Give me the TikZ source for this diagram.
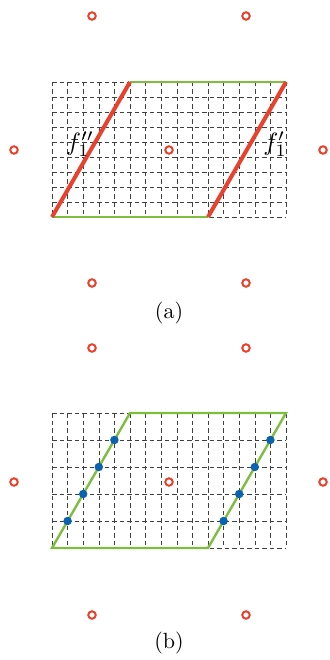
\documentclass[tikz,border=0pt]{standalone}
\usepackage{amsmath}
\usepackage{xcolor}
\usetikzlibrary{calc}
\definecolor{ringred}{HTML}{E8412C}
\definecolor{edgegreen}{HTML}{7DBE3F}
\definecolor{dotblue}{HTML}{0B62B0}
\definecolor{gridgrey}{HTML}{404040}

\begin{document}
\begin{tikzpicture}[
    x=1pt, y=-1pt,
    ring/.style={circle, draw=ringred, line width=2pt, minimum size=7.5pt, inner sep=0pt},
    dot/.style={circle, fill=dotblue, minimum size=8.5pt, inner sep=0pt},
    gridline/.style={draw=gridgrey, line width=0.6pt, dash pattern=on 4.5pt off 3pt},
    redside/.style={draw=ringred, line width=4pt},
    greenside/.style={draw=edgegreen, line width=2.4pt},
    flabel/.style={scale=2.5, inner sep=0pt},
    caption/.style={scale=2.2, inner sep=0pt}
]
\useasboundingbox (0,0) rectangle (329,660);

% (a)
\foreach \i in {0,...,15} \draw[gridline] ({52+15.6*\i},82) -- ({52+15.6*\i},217);
\foreach \j in {0,...,9} \draw[gridline] (52,{82+15*\j}) -- (286,{82+15*\j});

\coordinate (a1) at (52,217);
\coordinate (a2) at (130,82);
\coordinate (a3) at (286,82);
\coordinate (a4) at (208,217);
\draw[greenside] (a2) -- (a3);
\draw[greenside] (a1) -- (a4);
\draw[redside] (a1) -- (a2);
\draw[redside] (a4) -- (a3);

\node[flabel] (fdd) at (80,144) {$f_1''$};
\node[flabel] (fd) at (275,144) {$f_1'$};

\node[ring] (ra1) at (92,16) {};
\node[ring] (ra2) at (246,16) {};
\node[ring] (ra3) at (14,150) {};
\node[ring] (ra4) at (169,150) {};
\node[ring] (ra5) at (323,150) {};
\node[ring] (ra6) at (92,283) {};
\node[ring] (ra7) at (246,283) {};

\node[caption] (capa) at (169,313) {(a)};

% (b)
\foreach \i in {0,...,15} \draw[gridline] ({52+15.6*\i},413) -- ({52+15.6*\i},548);
\foreach \j in {0,...,5} \draw[gridline] (52,{413+27*\j}) -- (286,{413+27*\j});

\coordinate (b1) at (52,548);
\coordinate (b2) at (130,413);
\coordinate (b3) at (286,413);
\coordinate (b4) at (208,548);
\draw[greenside] (b1) -- (b2) -- (b3) -- (b4) -- cycle;

\foreach \k in {1,...,4} {
    \node[dot] (dl\k) at ($(b1)!\k/5!(b2)$) {};
    \node[dot] (dr\k) at ($(b4)!\k/5!(b3)$) {};
}

\node[ring] (rb1) at (92,348) {};
\node[ring] (rb2) at (246,348) {};
\node[ring] (rb3) at (14,482) {};
\node[ring] (rb4) at (169,482) {};
\node[ring] (rb5) at (323,482) {};
\node[ring] (rb6) at (92,615) {};
\node[ring] (rb7) at (246,615) {};

\node[caption] (capb) at (169,643) {(b)};
\end{tikzpicture}
\end{document}
